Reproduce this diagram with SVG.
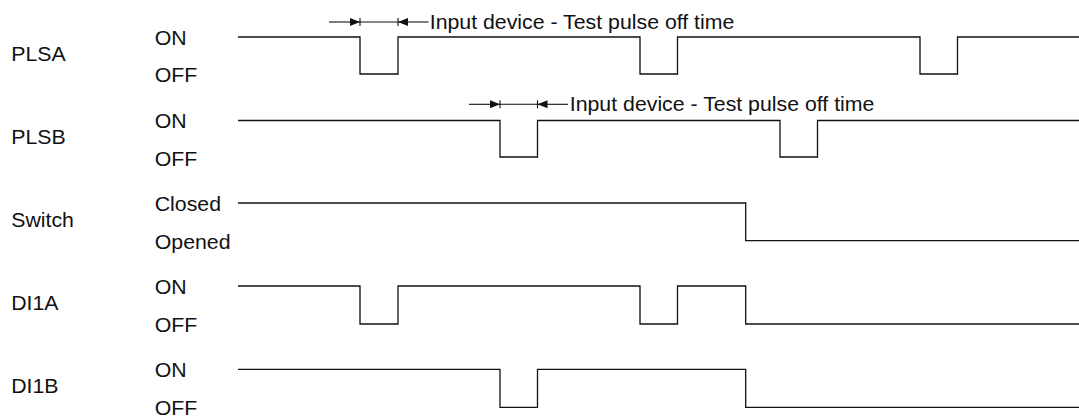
<svg xmlns="http://www.w3.org/2000/svg" width="1079" height="417" viewBox="0 0 1079 417">
<style>
.w{fill:none;stroke:#111;stroke-width:1.3;stroke-linejoin:miter}
.a{fill:none;stroke:#111;stroke-width:1.1}
text{font-family:"Liberation Sans",Arial,sans-serif;font-size:20px;fill:#111}
</style>
<defs>
<marker id="ah" markerUnits="userSpaceOnUse" markerWidth="11" markerHeight="9" refX="10" refY="4.5" orient="auto">
<path d="M0,0.5 L10,4.5 L0,8.5 Z" fill="#111"/>
</marker>
</defs>
<rect width="1079" height="417" fill="#fff"/>
<g id="labels" transform="scale(1.065 1)">
<g id="label-plsa"><text x="10.5" y="61">PLSA</text><text x="145.3" y="45">ON</text><text x="145.3" y="82.5">OFF</text></g>
<g id="label-plsb"><text x="10.5" y="144">PLSB</text><text x="145.3" y="128.5">ON</text><text x="145.3" y="166">OFF</text></g>
<g id="label-switch"><text x="10.5" y="227">Switch</text><text x="145.3" y="211.5">Closed</text><text x="145.3" y="249">Opened</text></g>
<g id="label-di1a"><text x="10.5" y="310">DI1A</text><text x="145.3" y="294.5">ON</text><text x="145.3" y="332">OFF</text></g>
<g id="label-di1b"><text x="10.5" y="393.5">DI1B</text><text x="145.3" y="377.5">ON</text><text x="145.3" y="415">OFF</text></g>
<g id="note-a"><text x="403.5" y="28.6">Input device - Test pulse off time</text></g>
<g id="note-b"><text x="535" y="111">Input device - Test pulse off time</text></g>
</g>
<g id="wave-plsa"><path class="w" d="M238,37 H360 V74 H398 V37 H640 V74 H677.5 V37 H920 V74 H957.5 V37 H1079"/></g>
<g id="wave-plsb"><path class="w" d="M238,120.5 H500 V157 H537.5 V120.5 H780 V157 H817.5 V120.5 H1079"/></g>
<g id="wave-switch"><path class="w" d="M238,203 H745.7 V240.7 H1079"/></g>
<g id="wave-di1a"><path class="w" d="M238,286 H360 V324 H398 V286 H640 V324 H677.5 V286 H745.7 V324 H1079"/></g>
<g id="wave-di1b"><path class="w" d="M238,369.3 H500 V407.3 H537.5 V369.3 H745.7 V407.3 H1079"/></g>
<g id="connectors">
<line class="a" x1="329" y1="22" x2="360" y2="22" marker-end="url(#ah)"/>
<line class="a" x1="360" y1="22" x2="398" y2="22"/>
<line class="a" x1="428.5" y1="22" x2="398" y2="22" marker-end="url(#ah)"/>
<line class="a" x1="360" y1="18" x2="360" y2="26"/>
<line class="a" x1="398" y1="18" x2="398" y2="26"/>
<line class="a" x1="469" y1="104.3" x2="500" y2="104.3" marker-end="url(#ah)"/>
<line class="a" x1="500" y1="104.3" x2="537.5" y2="104.3"/>
<line class="a" x1="568" y1="104.3" x2="537.5" y2="104.3" marker-end="url(#ah)"/>
<line class="a" x1="500" y1="100.3" x2="500" y2="108.3"/>
<line class="a" x1="537.5" y1="100.3" x2="537.5" y2="108.3"/>
</g>
</svg>
